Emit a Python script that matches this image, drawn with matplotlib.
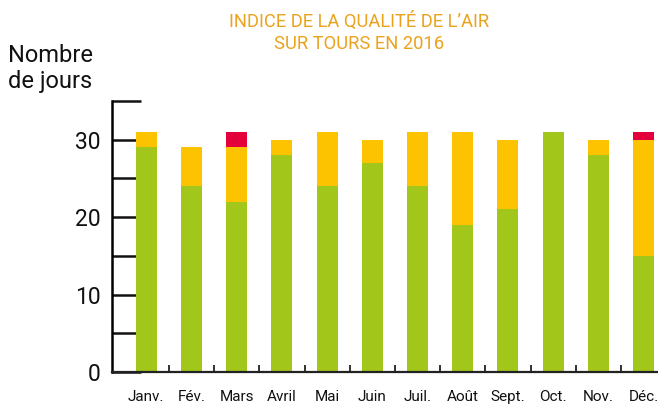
import matplotlib
matplotlib.use("Agg")
import matplotlib.pyplot as plt
import numpy as np

plt.rcParams['font.family'] = ['Roboto', 'DejaVu Sans']

months = ["Janv.", "Fév.", "Mars", "Avril", "Mai", "Juin",
          "Juil.", "Août", "Sept.", "Oct.", "Nov.", "Déc."]
bons = [29, 24, 22, 28, 24, 27, 24, 19, 21, 31, 28, 15]
moyens = [2, 5, 7, 2, 7, 3, 7, 12, 9, 0, 2, 15]
mauvais = [0, 0, 2, 0, 0, 0, 0, 0, 0, 0, 0, 1]

c_green = "#A3C61A"
c_yellow = "#FDC300"
c_red = "#E4003A"
c_title = "#EBA21C"

fig = plt.figure(figsize=(6.58, 4.05), dpi=100)
ax = fig.add_axes([0.170, 0.0815, 0.830, 0.669])

x = np.arange(len(months))
w = 0.465
b1 = np.array(bons)
b2 = b1 + np.array(moyens)
ax.bar(x, bons, w, color=c_green, zorder=2)
ax.bar(x, moyens, w, bottom=b1, color=c_yellow, zorder=2)
ax.bar(x, mauvais, w, bottom=b2, color=c_red, zorder=2)

ax.set_xlim(-0.763, 11.32)
ax.set_ylim(0, 35)

for s in ["top", "right"]:
    ax.spines[s].set_visible(False)
ax.spines["left"].set_linewidth(1.8)
ax.spines["bottom"].set_linewidth(1.6)
ax.spines["bottom"].set_color("#222222")
ax.spines["bottom"].set_zorder(3)

ax.set_yticks(np.arange(0, 36, 5))
ax.set_yticklabels(["0", "", "10", "", "20", "", "30", ""])
ax.tick_params(axis="y", direction="in", length=21, width=1.8,
               labelsize=16.5, pad=8, colors="#111111")

ax.set_xticks(x[:-1] + 0.5)
ax.set_xticklabels([])
ax.tick_params(axis="x", direction="in", length=5, width=1.3, colors="#222222")
for i, m in enumerate(months):
    ax.text(i, -3.25, m, ha="center", va="center", fontsize=11,
            color="#111111", clip_on=False)

fig.text(0.012, 0.847, "Nombre", ha="left", va="baseline",
         fontsize=17, color="#111111")
fig.text(0.012, 0.783, "de jours", ha="left", va="baseline",
         fontsize=17, color="#111111")
fig.text(0.5456, 0.9326, "INDICE DE LA QUALITÉ DE L’AIR",
         ha="center", va="baseline", fontsize=13.2, color=c_title)
fig.text(0.5456, 0.8783, "SUR TOURS EN 2016",
         ha="center", va="baseline", fontsize=13.2, color=c_title)

fig.savefig("out.png", dpi=100)
